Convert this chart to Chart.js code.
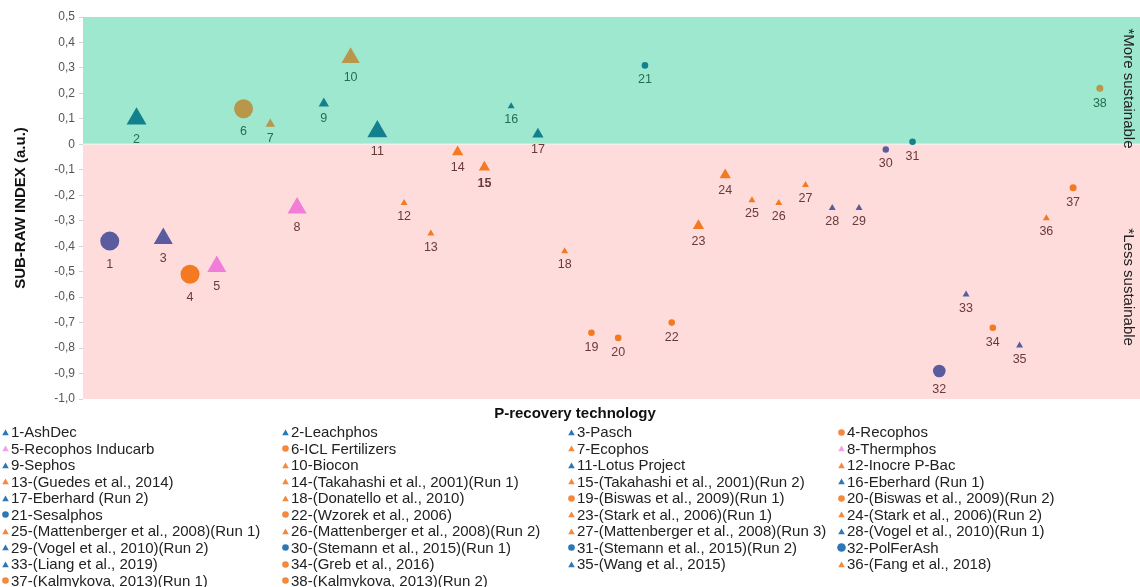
<!DOCTYPE html>
<html>
<head>
<meta charset="utf-8">
<script src="https://cdn.jsdelivr.net/npm/chart.js@4/dist/chart.umd.min.js"></script>
<style>
  html, body { margin: 0; padding: 0; background: #fff; }
  #wrap { position: relative; width: 1140px; height: 587px; overflow: hidden;
          font-family: "Liberation Sans", Arial, Helvetica, sans-serif; }
  #chart { position: absolute; left: 0; top: 0; }
  #xtitle { position: absolute; top: 404px; left: 575px; transform: translateX(-50%);
            font-weight: bold; font-size: 15px; line-height: 18px; color: #111; white-space: nowrap; }
  .lg-mark { position: absolute; }
  .lg-text { position: absolute; font-size: 15px; line-height: 16px; color: #222; white-space: nowrap; }
</style>
</head>
<body>
<div id="wrap">
  <canvas id="chart" width="1140" height="587"></canvas>
  <div id="xtitle">P-recovery technology</div>
  <div id="legend"></div>
</div>
<script>
// ---- data ----
const techIds = [1, 2, 3, 4, 5, 6, 7, 8, 9, 10, 11, 12, 13, 14, 15, 16, 17, 18, 19,
                 20, 21, 22, 23, 24, 25, 26, 27, 28, 29, 30, 31, 32, 33, 34, 35, 36, 37, 38];

const techNames = [
  "AshDec", "Leachphos", "Pasch", "Recophos", "Recophos Inducarb", "ICL Fertilizers",
  "Ecophos", "Thermphos", "Sephos", "Biocon", "Lotus Project", "Inocre P-Bac",
  "(Guedes et al., 2014)", "(Takahashi et al., 2001)(Run 1)", "(Takahashi et al., 2001)(Run 2)",
  "Eberhard (Run 1)", "Eberhard (Run 2)", "(Donatello et al., 2010)",
  "(Biswas et al., 2009)(Run 1)", "(Biswas et al., 2009)(Run 2)", "Sesalphos",
  "(Wzorek et al., 2006)", "(Stark et al., 2006)(Run 1)", "(Stark et al., 2006)(Run 2)",
  "(Mattenberger et al., 2008)(Run 1)", "(Mattenberger et al., 2008)(Run 2)",
  "(Mattenberger et al., 2008)(Run 3)", "(Vogel et al., 2010)(Run 1)", "(Vogel et al., 2010)(Run 2)",
  "(Stemann et al., 2015)(Run 1)", "(Stemann et al., 2015)(Run 2)", "PolFerAsh",
  "(Liang et al., 2019)", "(Greb et al., 2016)", "(Wang et al., 2015)", "(Fang et al., 2018)",
  "(Kalmykova, 2013)(Run 1)", "(Kalmykova, 2013)(Run 2)"
];

const subRawIndex = [
  -0.38, 0.10, -0.37, -0.51, -0.48, 0.14, 0.08, -0.25, 0.16, 0.34,
   0.05, -0.23, -0.35, -0.03, -0.09, 0.15, 0.04, -0.42, -0.74, -0.76,
   0.31, -0.70, -0.32, -0.12, -0.22, -0.23, -0.16, -0.25, -0.25, -0.02,
   0.01, -0.89, -0.59, -0.72, -0.79, -0.29, -0.17, 0.22
];

const yTickValues = [0.5, 0.4, 0.3, 0.2, 0.1, 0, -0.1, -0.2, -0.3, -0.4, -0.5, -0.6, -0.7, -0.8, -0.9, -1.0];

// ---- marker styles ----
const COL = {
  teal: "#13808d", indigo: "#5a5c9f", orange: "#f47a22", pink: "#f27dd8", gold: "#b9974a",
  lgBlue: "#2a78b8", lgOrange: "#f5883a", lgPink: "#f0a2e6"
};
const markerShape = [
  "circle", "triangle", "triangle", "circle", "triangle", "circle", "triangle", "triangle", "triangle", "triangle",
  "triangle", "triangle", "triangle", "triangle", "triangle", "triangle", "triangle", "triangle", "circle", "circle",
  "circle", "circle", "triangle", "triangle", "triangle", "triangle", "triangle", "triangle", "triangle", "circle",
  "circle", "circle", "triangle", "circle", "triangle", "triangle", "circle", "circle"
];
const markerColor = [
  COL.indigo, COL.teal, COL.indigo, COL.orange, COL.pink, COL.gold, COL.gold, COL.pink, COL.teal, COL.gold,
  COL.teal, COL.orange, COL.orange, COL.orange, COL.orange, COL.teal, COL.teal, COL.orange, COL.orange, COL.orange,
  COL.teal, COL.orange, COL.orange, COL.orange, COL.orange, COL.orange, COL.orange, COL.indigo, COL.indigo, COL.indigo,
  COL.teal, COL.indigo, COL.indigo, COL.orange, COL.indigo, COL.orange, COL.orange, COL.gold
];
const markerRadius = [
  9.5, 11.5, 11, 9.5, 11, 9.5, 5.5, 11, 6, 10.5,
  11.5, 4, 4, 6.5, 6.5, 4, 6.5, 4, 3.3, 3.3,
  3.3, 3.3, 6.5, 6.5, 4, 4, 4, 4, 4, 3.2,
  3.3, 6.3, 4, 3.3, 4, 4, 3.5, 3.5
];
const legendShape = [
  "triangle", "triangle", "triangle", "circle", "triangle", "circle", "triangle", "triangle", "triangle", "triangle",
  "triangle", "triangle", "triangle", "triangle", "triangle", "triangle", "triangle", "triangle", "circle", "circle",
  "circle", "circle", "triangle", "triangle", "triangle", "triangle", "triangle", "triangle", "triangle", "circle",
  "circle", "circle", "triangle", "circle", "triangle", "triangle", "circle", "circle"
];
const legendColor = [
  COL.lgBlue, COL.lgBlue, COL.lgBlue, COL.lgOrange, COL.lgPink, COL.lgOrange, COL.lgOrange, COL.lgPink, COL.lgBlue, COL.lgOrange,
  COL.lgBlue, COL.lgOrange, COL.lgOrange, COL.lgOrange, COL.lgOrange, COL.lgBlue, COL.lgBlue, COL.lgOrange, COL.lgOrange, COL.lgOrange,
  COL.lgBlue, COL.lgOrange, COL.lgOrange, COL.lgOrange, COL.lgOrange, COL.lgOrange, COL.lgOrange, COL.lgBlue, COL.lgBlue, COL.lgBlue,
  COL.lgBlue, COL.lgBlue, COL.lgBlue, COL.lgOrange, COL.lgBlue, COL.lgOrange, COL.lgOrange, COL.lgOrange
];

const FONT = '"Liberation Sans", Arial, Helvetica, sans-serif';
const GREEN_BAND = "#9de8cf";
const RED_BAND = "#fddcdb";

function fmtTick(v) {
  const r = Math.round(v * 10) / 10;
  if (r === 0) return "0";
  return r.toFixed(1).replace(".", ",");
}

// shaded bands above / below zero
const bandPlugin = {
  id: "bands",
  beforeDraw(chart) {
    const { ctx, chartArea: a, scales: { y } } = chart;
    ctx.save();
    ctx.fillStyle = "#fff";
    ctx.fillRect(0, 0, chart.width, chart.height);
    const z = y.getPixelForValue(0);
    ctx.fillStyle = GREEN_BAND;
    ctx.fillRect(a.left, a.top, a.right - a.left, z - a.top);
    ctx.fillStyle = RED_BAND;
    ctx.fillRect(a.left, z, a.right - a.left, a.bottom - z);
    ctx.fillStyle = "rgba(255,255,255,0.6)";
    ctx.fillRect(a.left, Math.round(z) - 0.5, a.right - a.left, 1);
    ctx.restore();
  }
};

// number under each marker
const pointLabelPlugin = {
  id: "pointLabels",
  afterDatasetsDraw(chart) {
    const { ctx, scales: { y } } = chart;
    const z = y.getPixelForValue(0);
    const meta = chart.getDatasetMeta(0);
    ctx.save();
    ctx.textAlign = "center";
    ctx.textBaseline = "middle";
    meta.data.forEach((pt, i) => {
      const r = markerRadius[i];
      const below = markerShape[i] === "triangle" ? r / 2 : r;
      const ly = pt.y + below + 10 + 0.4 * r;
      ctx.font = (techIds[i] === 15 ? "bold " : "") + "12.5px " + FONT;
      ctx.fillStyle = ly < z ? "#22704f" : "#6a3939";
      ctx.fillText(String(techIds[i]), pt.x, ly);
    });
    ctx.restore();
  }
};

// vertical notes on the right edge
const sideNotePlugin = {
  id: "sideNotes",
  afterDraw(chart) {
    const { ctx, chartArea: a, scales: { y } } = chart;
    const notes = [["*More sustainable", 0.455], ["*Less sustainable", -0.33]];
    ctx.save();
    ctx.font = "15px " + FONT;
    ctx.fillStyle = "#222";
    ctx.textAlign = "left";
    ctx.textBaseline = "middle";
    notes.forEach(([t, v]) => {
      ctx.save();
      ctx.translate(a.right - 12, y.getPixelForValue(v));
      ctx.rotate(Math.PI / 2);
      ctx.fillText(t, 0, 0);
      ctx.restore();
    });
    ctx.restore();
  }
};

new Chart(document.getElementById("chart"), {
  type: "scatter",
  data: {
    datasets: [{
      data: techIds.map((id, i) => ({ x: id, y: subRawIndex[i] })),
      pointStyle: markerShape,
      pointRadius: markerRadius,
      pointHoverRadius: markerRadius,
      pointBackgroundColor: markerColor,
      pointBorderWidth: 0,
      pointBorderColor: "rgba(0,0,0,0)"
    }]
  },
  options: {
    responsive: false,
    animation: false,
    devicePixelRatio: 1,
    events: [],
    layout: { autoPadding: false, padding: { top: 17, right: 0, bottom: 188, left: 0 } },
    plugins: { legend: { display: false }, tooltip: { enabled: false } },
    scales: {
      x: { type: "linear", display: false, min: 0, max: 39.5 },
      y: {
        min: -1, max: 0.5,
        afterFit(s) { s.width = 83; },
        afterBuildTicks(s) { s.ticks = yTickValues.map(v => ({ value: v })); },
        ticks: { callback: v => fmtTick(v), color: "#555", font: { size: 12, family: FONT }, padding: 4 },
        grid: { drawOnChartArea: false, drawTicks: true, tickLength: 4, color: "#d4d4d4" },
        border: { display: false },
        title: {
          display: true, text: "SUB-RAW INDEX (a.u.)", color: "#111",
          font: { size: 15, weight: "bold", family: FONT }, padding: { top: 12, bottom: 0 }
        }
      }
    }
  },
  plugins: [bandPlugin, pointLabelPlugin, sideNotePlugin]
});

// legend: four columns, row-major
const legendColX = [5, 285, 571, 841];
const legendRowY0 = 432, legendRowStep = 16.5;
const legendBox = document.getElementById("legend");
const svgNS = "http://www.w3.org/2000/svg";
techIds.forEach((id, i) => {
  const cx = legendColX[i % 4];
  const cy = legendRowY0 + Math.floor(i / 4) * legendRowStep;
  const s = id === 32 ? 9 : 7;
  const svg = document.createElementNS(svgNS, "svg");
  svg.setAttribute("class", "lg-mark");
  svg.setAttribute("width", s);
  svg.setAttribute("height", s);
  svg.style.width = s + "px";
  svg.style.height = s + "px";
  svg.style.left = (cx - s / 2) + "px";
  svg.style.top = (cy - s / 2) + "px";
  let shape;
  if (legendShape[i] === "circle") {
    shape = document.createElementNS(svgNS, "circle");
    shape.setAttribute("cx", s / 2);
    shape.setAttribute("cy", s / 2);
    shape.setAttribute("r", s / 2 - 0.2);
  } else {
    shape = document.createElementNS(svgNS, "polygon");
    shape.setAttribute("points", `${s / 2},0.5 ${s - 0.2},${s - 0.8} 0.2,${s - 0.8}`);
  }
  shape.setAttribute("fill", legendColor[i]);
  svg.appendChild(shape);
  legendBox.appendChild(svg);

  const t = document.createElement("div");
  t.className = "lg-text";
  t.style.left = (cx + 6) + "px";
  t.style.top = (cy - 8) + "px";
  t.textContent = id + "-" + techNames[i];
  legendBox.appendChild(t);
});
</script>
</body>
</html>
